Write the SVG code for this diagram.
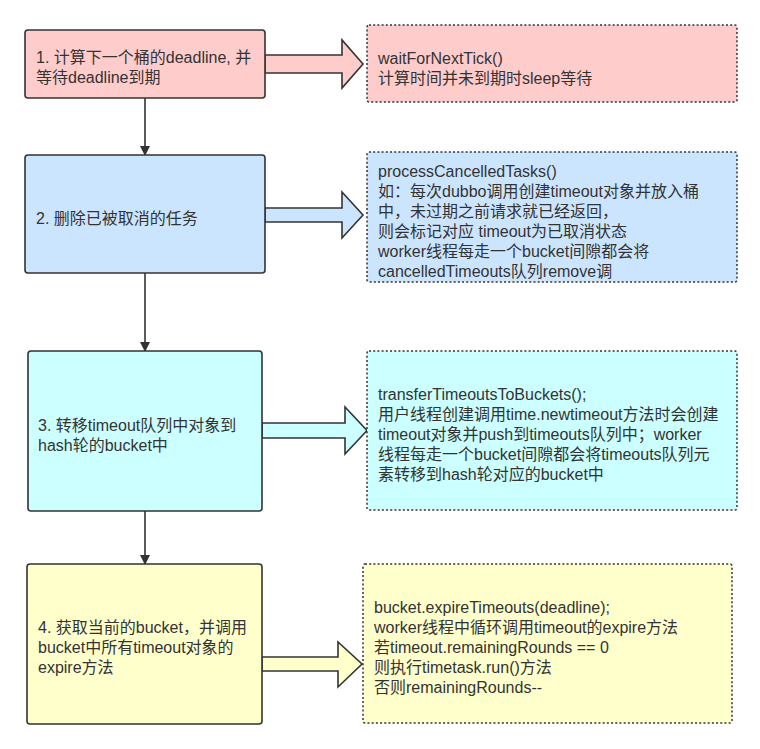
<svg xmlns="http://www.w3.org/2000/svg" width="760" height="749" viewBox="0 0 760 749">
<style>
.box{stroke:#333;stroke-width:1.6}
.note{stroke:#333;stroke-width:1.5;stroke-dasharray:2 2.2}
.blk{stroke:#333;stroke-width:1.6;stroke-linejoin:miter}
.t{font-family:"Liberation Sans","Noto Sans CJK SC",sans-serif;font-size:16px;fill:#333}
.pink{fill:#ffcccc}.blue{fill:#cce5ff}.cyan{fill:#ccffff}.yel{fill:#ffffcc}
.conn{stroke:#333;stroke-width:1.6;fill:none}
</style>
<defs>
<marker id="ah" markerWidth="10" markerHeight="10" refX="9" refY="5" orient="auto" markerUnits="userSpaceOnUse">
<path d="M0,0 L10,5 L0,10 Z" fill="#333"/>
</marker>
</defs>
<rect width="760" height="749" fill="#fff"/>
<g id="connectors">
<line class="conn" x1="145" y1="98" x2="145" y2="155" marker-end="url(#ah)"/>
<line class="conn" x1="145" y1="273" x2="145" y2="351" marker-end="url(#ah)"/>
<line class="conn" x1="145" y1="511" x2="145" y2="564" marker-end="url(#ah)"/>
<polygon class="blk pink" points="265,55 342,55 342,40 363,64 342,88 342,73 265,73"/>
<polygon class="blk blue" points="265,208 342,208 342,192 363,215 342,238 342,222 265,222"/>
<polygon class="blk cyan" points="262,423 345,423 345,407 367,430.5 345,454 345,438 262,438"/>
<polygon class="blk yel" points="262,657 338,657 338,642 362,664 338,687 338,671 262,671"/>
</g>
<g id="step1">
<rect class="box pink" x="25" y="30" width="240" height="68" rx="3"/>
<text class="t" x="36" y="62.5">1. 计算下一个桶的deadline, 并</text>
<text class="t" x="36" y="82.5">等待deadline到期</text>
</g>
<g id="note1">
<rect class="note pink" x="367" y="25" width="370" height="77" rx="2"/>
<text class="t" x="378" y="63.5">waitForNextTick()</text>
<text class="t" x="378" y="83.5">计算时间并未到期时sleep等待</text>
</g>
<g id="step2">
<rect class="box blue" x="25" y="155" width="240" height="118" rx="3"/>
<text class="t" x="36" y="223.5">2. 删除已被取消的任务</text>
</g>
<g id="note2">
<rect class="note blue" x="367" y="152" width="370" height="130" rx="2"/>
<text class="t" x="378" y="176.5">processCancelledTasks()</text>
<text class="t" x="378" y="196.5">如：每次dubbo调用创建timeout对象并放入桶</text>
<text class="t" x="378" y="216.5">中，未过期之前请求就已经返回，</text>
<text class="t" x="378" y="236.5">则会标记对应 timeout为已取消状态</text>
<text class="t" x="378" y="256.5">worker线程每走一个bucket间隙都会将</text>
<text class="t" x="378" y="276.5">cancelledTimeouts队列remove调</text>
</g>
<g id="step3">
<rect class="box cyan" x="28" y="351" width="234" height="160" rx="3"/>
<text class="t" x="38" y="430.5">3. 转移timeout队列中对象到</text>
<text class="t" x="38" y="450.5">hash轮的bucket中</text>
</g>
<g id="note3">
<rect class="note cyan" x="367" y="351" width="370" height="159" rx="2"/>
<text class="t" x="378" y="399.5">transferTimeoutsToBuckets();</text>
<text class="t" x="378" y="419.5">用户线程创建调用time.newtimeout方法时会创建</text>
<text class="t" x="378" y="439.5">timeout对象并push到timeouts队列中；worker</text>
<text class="t" x="378" y="459.5">线程每走一个bucket间隙都会将timeouts队列元</text>
<text class="t" x="378" y="479.5">素转移到hash轮对应的bucket中</text>
</g>
<g id="step4">
<rect class="box yel" x="27" y="564" width="235" height="160" rx="3"/>
<text class="t" x="38" y="632.5">4. 获取当前的bucket，并调用</text>
<text class="t" x="38" y="652.5">bucket中所有timeout对象的</text>
<text class="t" x="38" y="672.5">expire方法</text>
</g>
<g id="note4">
<rect class="note yel" x="363" y="564" width="369" height="159" rx="2"/>
<text class="t" x="374" y="612.5">bucket.expireTimeouts(deadline);</text>
<text class="t" x="374" y="632.5">worker线程中循环调用timeout的expire方法</text>
<text class="t" x="374" y="652.5">若timeout.remainingRounds == 0</text>
<text class="t" x="374" y="672.5">则执行timetask.run()方法</text>
<text class="t" x="374" y="692.5">否则remainingRounds--</text>
</g>
</svg>
